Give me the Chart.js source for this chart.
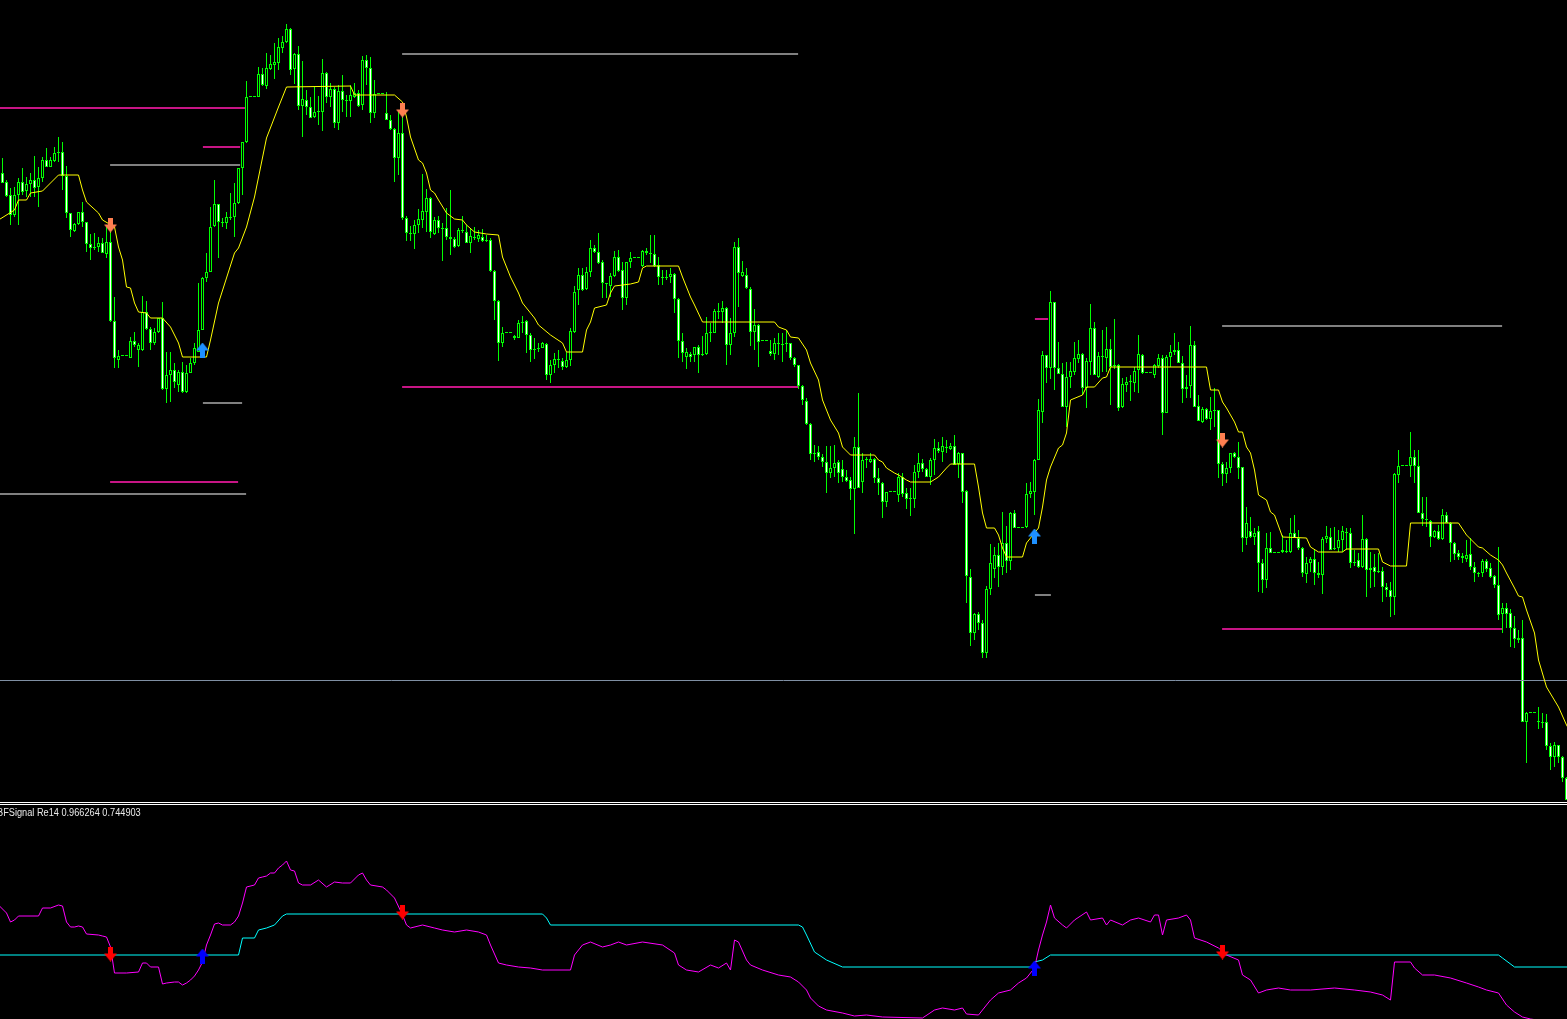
<!DOCTYPE html>
<html>
<head>
<meta charset="utf-8">
<script src="https://cdn.jsdelivr.net/npm/chart.js@4.4.1/dist/chart.umd.min.js"></script>
<style>
  html, body { margin: 0; padding: 0; background: #000; overflow: hidden; }
  #wrap { position: relative; width: 1567px; height: 1019px; background: #000; }
  #main { position: absolute; left: 0; top: 0; }
  #sub { position: absolute; left: 0; top: 805px; }
  .sep { position: absolute; left: 0; width: 1567px; height: 1px; background: #ffffff; }
  #lbl { position: absolute; left: -3px; top: 807px; font: 10px "Liberation Sans", Arial, sans-serif; color: #e8e8e8; white-space: nowrap; transform: scaleX(0.92); transform-origin: 0 0; }
</style>
</head>
<body>
<div id="wrap">
  <canvas id="main" width="1567" height="802" style="width:1567px;height:802px"></canvas>
  <div class="sep" style="top:802px"></div>
  <div class="sep" style="top:804px"></div>
  <canvas id="sub" width="1567" height="214" style="width:1567px;height:214px"></canvas>
  <div id="lbl">BFSignal Re14 0.966264 0.744903</div>
</div>
<script>
// candles (price in points)
const openP = [
827,818,805,785,805,818,809,816,820,813,
822,840,833,839,848,848,824,787,769,776,
788,778,756,752,753,757,746,758,679,640,
644,644,642,659,650,650,688,671,657,668,
682,611,625,630,615,628,608,627,637,648,
670,722,728,774,796,778,777,783,783,797,
832,858,903,903,903,926,914,931,935,937,
952,958,971,931,946,894,900,893,883,888,
888,927,903,911,877,909,900,899,903,907,
895,940,932,887,906,906,887,880,871,842,
867,782,767,766,775,780,788,802,766,780,
772,772,763,761,754,770,768,757,763,761,
763,760,760,729,699,657,667,667,662,662,
677,679,665,651,652,652,656,625,635,641,
639,633,640,668,710,725,711,728,752,748,
738,717,714,724,743,730,702,738,742,742,
734,749,747,746,735,723,722,723,726,701,
659,643,646,645,653,645,646,667,667,689,
688,692,655,667,753,724,725,711,668,675,
659,659,649,646,657,656,656,657,642,635,
614,599,576,546,548,543,538,527,532,538,
531,523,520,511,553,518,540,538,541,522,
517,498,508,508,505,523,507,502,501,528,
537,531,523,540,552,548,553,551,554,536,
547,509,423,367,386,377,347,411,431,445,
433,457,439,487,472,472,473,506,508,540,
588,645,632,698,632,626,593,623,628,641,
646,612,638,672,623,644,642,651,635,635,
593,615,618,617,630,645,627,627,625,634,
642,587,643,648,650,637,611,614,655,594,
578,591,581,590,590,536,526,532,547,543,
533,462,469,463,469,437,420,452,447,447,
448,449,448,467,462,452,426,437,441,427,
425,461,463,451,452,460,468,467,438,440,
433,461,430,433,429,429,413,410,403,525,
534,534,534,543,534,487,481,479,463,469,
461,485,477,457,447,444,441,446,433,427,
427,439,432,424,415,386,392,387,372,362,
362,278,287,287,279,278,278,254,243,255,
243,222];
const highP = [
842,820,812,813,822,832,823,827,844,833,
843,852,843,853,863,858,834,787,777,788,
798,778,766,767,763,762,773,782,703,650,
644,644,663,668,657,704,699,673,672,682,
698,648,648,637,630,638,635,642,657,717,
723,747,793,820,796,782,788,807,817,832,
858,919,903,903,933,932,947,945,957,962,
964,976,972,947,954,939,910,903,913,904,
941,928,917,913,915,925,905,915,917,910,
944,945,943,920,906,906,908,885,872,890,
897,784,774,780,791,826,811,803,783,784,
777,792,810,763,772,784,775,772,773,770,
771,765,762,730,700,673,667,667,665,680,
684,680,667,662,657,658,657,640,647,650,
642,648,672,714,732,732,733,760,755,767,
740,717,727,749,750,738,738,748,742,742,
750,752,765,765,743,730,730,732,727,702,
667,652,648,653,655,664,683,677,691,697,
699,693,682,758,762,739,732,713,691,676,
659,659,660,662,667,667,670,657,643,635,
615,602,577,555,554,546,554,554,555,540,
540,530,523,563,607,547,543,547,542,532,
518,508,508,508,527,527,512,512,535,547,
541,532,542,561,558,563,560,557,565,548,
547,510,431,387,388,380,414,456,453,457,
488,474,488,490,472,472,517,518,541,601,
649,645,709,698,658,637,638,638,658,660,
647,642,696,678,648,670,673,661,681,636,
622,623,625,633,665,646,627,627,636,646,
645,645,655,667,658,644,625,674,659,605,
593,592,603,612,590,538,538,547,548,558,
533,493,483,472,474,441,467,468,447,447,
465,460,482,485,470,453,443,443,450,438,
463,474,472,473,470,474,472,472,450,447,
485,462,448,446,447,433,417,418,527,550,
534,534,568,550,550,503,503,480,470,475,
491,488,478,458,450,447,460,462,438,428,
441,441,437,425,453,397,397,391,384,370,
380,288,287,287,293,287,286,257,258,255,
244,223];
const lowP = [
817,803,775,783,775,805,803,803,803,793,
818,833,833,838,838,810,782,763,768,775,
773,748,740,750,748,747,742,678,632,632,
644,644,642,653,633,649,670,650,655,667,
610,597,598,612,608,607,607,627,635,648,
670,718,728,773,742,773,771,780,763,796,
805,857,903,903,903,914,911,930,921,930,
947,957,925,916,890,863,885,882,882,875,
869,897,893,872,870,888,883,883,902,893,
890,915,877,882,906,906,880,870,818,825,
780,759,759,751,767,772,768,762,765,767,
739,760,745,752,753,767,757,747,760,758,
758,758,728,680,639,653,667,667,660,662,
667,647,638,641,648,652,620,617,627,632,
630,632,634,667,695,709,710,723,747,736,
702,702,703,723,728,690,695,732,742,742,
733,745,737,733,715,715,720,717,687,642,
638,631,638,638,627,644,645,658,667,681,
677,635,645,663,693,723,711,654,650,633,
659,659,644,640,645,638,648,640,633,611,
595,575,540,538,540,533,507,522,523,517,
518,518,500,466,513,507,532,537,517,505,
482,493,508,508,498,503,491,484,492,522,
528,523,515,525,547,538,547,550,535,522,
497,397,354,360,370,342,342,405,422,413,
425,427,430,472,472,472,472,502,485,540,
577,617,621,610,626,593,573,612,625,637,
605,592,625,625,622,628,628,595,631,589,
592,608,599,608,607,626,627,627,622,632,
565,587,633,645,637,597,602,602,593,579,
577,580,570,573,522,514,517,527,542,521,
448,455,462,455,408,407,412,447,447,447,
447,447,447,462,450,423,417,428,415,422,
406,457,450,450,448,448,450,432,434,432,
432,403,412,413,427,398,403,383,385,517,
534,534,523,517,487,474,473,453,462,460,
460,477,438,440,440,437,438,430,418,423,
423,428,422,412,380,367,372,353,352,357,
278,237,287,287,271,272,250,230,233,237,
218,200];
const closeP = [
817,804,785,805,818,808,816,820,812,822,
840,833,840,847,847,824,787,770,776,788,
778,756,752,753,757,747,758,679,642,644,
644,644,659,655,655,688,671,657,668,682,
611,625,630,618,628,608,627,637,652,670,
722,728,773,796,778,777,783,782,797,832,
858,903,903,903,926,915,932,936,938,953,
958,971,930,946,894,901,893,882,888,888,
927,903,911,877,909,900,899,905,907,894,
940,932,887,906,906,906,880,871,842,867,
782,767,766,775,781,789,802,768,780,772,
771,763,761,753,770,769,757,764,762,765,
759,759,729,699,657,667,667,667,664,677,
678,665,650,650,651,657,625,635,641,640,
633,640,669,708,725,710,728,752,748,737,
717,716,724,743,729,702,738,742,742,742,
749,747,746,734,723,722,723,726,701,659,
647,648,643,653,645,646,667,668,689,688,
692,655,667,753,727,728,712,668,675,658,
659,659,646,657,656,655,657,642,635,614,
600,576,546,547,543,538,527,532,537,527,
523,519,511,553,512,540,540,541,522,517,
498,508,508,508,523,506,501,501,528,537,
531,523,540,552,549,554,552,554,535,547,
508,424,367,386,377,347,411,437,445,433,
457,439,487,472,472,472,506,509,540,590,
645,632,698,632,626,593,623,629,642,646,
612,639,672,625,644,643,651,633,634,592,
616,618,618,629,646,627,627,627,635,642,
587,643,648,650,637,611,613,655,593,579,
591,581,589,589,536,526,532,547,543,532,
462,477,463,467,437,420,452,447,447,447,
450,448,467,462,452,427,437,441,427,425,
461,464,450,452,460,469,467,437,437,433,
461,430,432,428,428,413,410,403,526,534,
534,534,543,534,487,481,480,463,469,461,
485,477,457,446,443,442,445,433,427,426,
439,431,423,415,385,392,386,372,361,360,
278,287,287,287,278,277,254,243,255,243,
222,200];

// yellow trailing line, [bar, price]
const maLine = [
[-1,780],[3,790],[4,800],[6,800],[7,807],[10,809],[11,813],[12,817],[14,825],[19,825],
[20,810],[21,798],[24,787],[25,780],[28,773],[29,753],[30,740],[31,713],[32,712],[33,697],
[34,688],[36,687],[37,682],[40,682],[42,673],[44,657],[45,643],[51,643],[52,660],[54,697],
[58,747],[59,752],[61,773],[63,803],[66,862],[69,893],[71,913],[87,914],[88,905],[98,905],
[100,898],[101,883],[102,863],[104,840],[105,837],[106,827],[107,810],[108,807],[109,800],[111,787],
[113,781],[115,780],[116,775],[118,768],[121,766],[124,765],[125,743],[127,723],[129,707],[130,697],
[133,682],[134,675],[137,665],[140,657],[141,648],[145,648],[146,670],[147,678],[148,692],[151,695],
[152,707],[153,714],[157,716],[159,718],[160,732],[161,734],[169,734],[170,723],[172,703],[173,695],
[175,678],[193,678],[194,673],[196,670],[197,663],[199,662],[201,650],[202,637],[204,620],[205,600],
[207,580],[209,567],[210,553],[212,545],[218,545],[219,540],[220,538],[221,532],[223,527],[224,525],
[226,520],[227,518],[232,518],[234,523],[236,532],[237,536],[243,536],[244,513],[245,487],[246,472],
[248,472],[249,465],[250,452],[251,443],[255,443],[256,457],[257,462],[259,472],[260,493],[261,520],
[262,533],[264,552],[265,555],[266,567],[267,600],[270,605],[271,613],[273,613],[275,622],[276,623],
[277,633],[301,633],[302,610],[304,610],[305,598],[306,592],[308,578],[309,568],[310,568],[311,553],
[312,547],[313,530],[314,505],[316,500],[317,488],[318,485],[320,463],[326,462],[327,453],[329,448],
[335,448],[336,451],[344,451],[345,438],[347,434],[351,434],[352,477],[364,477],[366,465],[369,453],
[370,452],[372,445],[374,440],[375,435],[376,427],[378,412],[379,404],[380,403],[381,390],[383,367],
[384,340],[386,313],[389,293],[391,275],[392,268]];

// horizontal levels: from bar, to bar, price
const magLevelFrom  = [-1, 50.1, 26.9, 99.9, 258.1, 304.9];
const magLevelTo    = [60.6, 59.4, 58.9, 198.9, 261.4, 374.9];
const magLevelPrice = [892, 853, 518, 613, 681, 371];
const grayLevelFrom  = [26.9, 50.1, -1, 99.9, 258.1, 304.9];
const grayLevelTo    = [59.4, 59.9, 60.9, 198.9, 262.1, 374.9];
const grayLevelPrice = [835, 597, 506, 946, 405, 674];
const bidPrice = 319.5;

// signal arrows
const sellBars = [27, 100, 305];
const sellPrice = [775, 890, 560];
const buyBars = [50, 258];
const buyPrice = [650, 464];

// BFSignal sub window, [bar, value]
const sigMagenta = [
[-1,1.15],[1,1.07],[2,0.98],[3,1.00],[4,1.04],[9,1.04],[10,1.12],[12,1.12],[14,1.15],[15,1.14],
[16,0.98],[17,0.93],[18,0.93],[19,0.94],[20,0.93],[21,0.86],[24,0.85],[25,0.84],[26,0.83],[27,0.73],
[28,0.47],[31,0.47],[34,0.48],[35,0.57],[36,0.57],[37,0.53],[39,0.53],[40,0.36],[41,0.37],[43,0.38],
[44,0.38],[45,0.35],[46,0.37],[47,0.40],[48,0.44],[49,0.50],[50,0.58],[51,0.75],[52,0.85],[53,0.96],
[54,0.97],[55,0.95],[57,0.95],[58,0.98],[59,1.04],[60,1.17],[61,1.33],[63,1.35],[64,1.42],[65,1.43],
[66,1.44],[67,1.47],[68,1.47],[69,1.52],[70,1.55],[71,1.59],[72,1.50],[73,1.49],[74,1.37],[75,1.35],
[77,1.35],[79,1.40],[81,1.33],[83,1.38],[85,1.37],[87,1.37],[89,1.45],[90,1.47],[91,1.40],[92,1.35],
[95,1.33],[96,1.30],[98,1.22],[100,1.05],[101,0.95],[102,0.92],[105,0.95],[108,0.92],[110,0.90],[113,0.88],
[116,0.90],[119,0.88],[121,0.85],[122,0.75],[124,0.57],[126,0.55],[129,0.53],[132,0.52],[135,0.50],[142,0.50],
[143,0.65],[145,0.75],[147,0.78],[150,0.73],[152,0.75],[154,0.78],[156,0.75],[160,0.78],[165,0.75],[168,0.67],
[169,0.55],[171,0.50],[174,0.48],[177,0.55],[179,0.52],[181,0.57],[182,0.50],[183,0.80],[184,0.78],[186,0.60],
[187,0.55],[190,0.50],[194,0.45],[197,0.43],[199,0.38],[201,0.30],[202,0.22],[204,0.14],[206,0.10],[210,0.07],
[213,0.04],[216,0.05],[220,0.03],[230,0.02],[233,0.10],[235,0.12],[238,0.10],[240,0.12],[241,0.06],[244,0.05],
[246,0.15],[247,0.20],[249,0.27],[252,0.30],[254,0.37],[256,0.42],[258,0.52],[259,0.70],[260,0.85],[261,0.98],
[262,1.15],[263,1.02],[265,0.95],[266,0.92],[268,1.00],[271,1.08],[272,1.00],[275,1.02],[276,0.95],[277,1.00],
[280,0.95],[282,1.00],[284,1.02],[287,0.98],[288,1.05],[289,1.05],[290,0.85],[291,1.00],[294,1.02],[296,1.05],
[297,1.00],[298,0.82],[301,0.78],[304,0.72],[306,0.65],[309,0.60],[310,0.45],[312,0.40],[314,0.27],[316,0.30],
[319,0.32],[322,0.30],[327,0.30],[333,0.32],[338,0.30],[342,0.28],[345,0.25],[347,0.20],[348,0.58],[352,0.58],
[353,0.52],[355,0.45],[358,0.45],[362,0.42],[366,0.37],[369,0.33],[371,0.30],[374,0.27],[376,0.15],[378,0.08],
[380,0.03],[382,0.01],[392,-0.05]];
const sigCyan = [
[-1,0.65],[59,0.65],[60,0.82],[63,0.82],[64,0.90],[66,0.92],[68,0.95],[70,1.04],[71,1.06],[135,1.06],
[136,1.02],[137,0.95],[199,0.95],[200,0.93],[201,0.85],[203,0.68],[206,0.60],[210,0.53],[257,0.53],[258,0.58],
[260,0.60],[262,0.65],[374,0.65],[375,0.62],[378,0.53],[392,0.53]];
const sigSellBars = [27, 100, 305];
const sigSellVal = [0.66, 1.08, 0.68];
const sigBuyBars = [50, 258];
const sigBuyVal = [0.64, 0.52];

const xMin = -0.625, xMax = 391.125;

function arrow(color, up) {
  const c = document.createElement('canvas');
  c.width = 13; c.height = 15;
  const g = c.getContext('2d');
  g.fillStyle = color;
  g.beginPath();
  if (up) {
    g.moveTo(6.5, 0); g.lineTo(13, 8); g.lineTo(9, 8); g.lineTo(9, 15);
    g.lineTo(4, 15); g.lineTo(4, 8); g.lineTo(0, 8);
  } else {
    g.moveTo(4, 0); g.lineTo(9, 0); g.lineTo(9, 7); g.lineTo(13, 7);
    g.lineTo(6.5, 15); g.lineTo(0, 7); g.lineTo(4, 7);
  }
  g.closePath();
  g.fill();
  return c;
}

const pairs = arr => arr.map(p => ({x: p[0], y: p[1]}));
const pts = (xs, ys) => xs.map((x, k) => ({x: x, y: ys[k]}));

const bars = openP.map((_, i) => i);
const wicks = bars.map(i => ({x: i, y: [lowP[i], highP[i]]}));
const bodies = bars.map(i => ({x: i, y: [openP[i], closeP[i]]}));
const bodyFill = bars.map(i => closeP[i] < openP[i] ? '#ffffff' : '#000000');

const levelSets = [];
magLevelPrice.forEach((p, k) => levelSets.push({
  type: 'line', data: [{x: magLevelFrom[k], y: p}, {x: magLevelTo[k], y: p}],
  borderColor: '#c71585', borderWidth: 2, pointRadius: 0, order: 4
}));
grayLevelPrice.forEach((p, k) => levelSets.push({
  type: 'line', data: [{x: grayLevelFrom[k], y: p}, {x: grayLevelTo[k], y: p}],
  borderColor: '#808080', borderWidth: 2, pointRadius: 0, order: 4
}));

const common = {
  responsive: false,
  animation: false,
  devicePixelRatio: 1,
  events: [],
  layout: { padding: 0, autoPadding: false },
  plugins: { legend: { display: false }, tooltip: { enabled: false } }
};

new Chart(document.getElementById('main'), {
  type: 'bar',
  data: {
    datasets: [
      { type: 'bar', data: wicks, backgroundColor: '#00ff00', barThickness: 1,
        grouped: false, inflateAmount: 0, order: 6 },
      { type: 'bar', data: bodies, backgroundColor: bodyFill, borderColor: '#00ff00',
        borderWidth: 1, borderSkipped: false, barThickness: 3, minBarLength: 1,
        grouped: false, inflateAmount: 0, order: 5 },
      ...levelSets,
      { type: 'line', data: [{x: xMin, y: bidPrice}, {x: xMax, y: bidPrice}],
        borderColor: '#7f8fa3', borderWidth: 1, pointRadius: 0, order: 4 },
      { type: 'line', data: pairs(maLine), borderColor: '#ffff00', borderWidth: 1,
        pointRadius: 0, tension: 0, order: 3 },
      { type: 'line', data: pts(sellBars, sellPrice), showLine: false,
        pointStyle: arrow('#ff7f50', false), pointRadius: 6, order: 1 },
      { type: 'line', data: pts(buyBars, buyPrice), showLine: false,
        pointStyle: arrow('#1e90ff', true), pointRadius: 6, order: 1 }
    ]
  },
  options: {
    ...common,
    scales: {
      x: { type: 'linear', min: xMin, max: xMax, offset: false, display: false },
      y: { type: 'linear', min: 198, max: 1000, display: false }
    }
  }
});

new Chart(document.getElementById('sub'), {
  type: 'line',
  data: {
    datasets: [
      { data: pairs(sigCyan), borderColor: '#00ffff', borderWidth: 1, pointRadius: 0, order: 3 },
      { data: pairs(sigMagenta), borderColor: '#ff00ff', borderWidth: 1, pointRadius: 0, order: 2 },
      { data: pts(sigSellBars, sigSellVal), showLine: false,
        pointStyle: arrow('#ff0000', false), pointRadius: 6, order: 1 },
      { data: pts(sigBuyBars, sigBuyVal), showLine: false,
        pointStyle: arrow('#0000ff', true), pointRadius: 6, order: 1 }
    ]
  },
  options: {
    ...common,
    scales: {
      x: { type: 'linear', min: xMin, max: xMax, offset: false, display: false },
      y: { type: 'linear', min: 0.01, max: 2.15, display: false }
    }
  }
});
</script>
</body>
</html>
